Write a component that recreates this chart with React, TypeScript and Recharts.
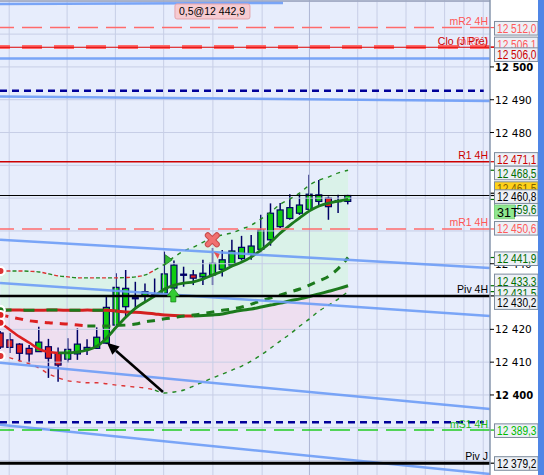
import React from 'react';
import { ComposedChart, XAxis, YAxis, Bar, Line, Area, ReferenceLine, ReferenceDot, CartesianGrid } from 'recharts';

const FONT = '"Liberation Sans", Arial, sans-serif';
const AXFONT = '"DejaVu Sans", Verdana, sans-serif';

// ---- candles (index 0..36) ----
const opens = [12418.9, 12416.8, 12415.5, 12414.2, 12413.2, 12414.7, 12412.7, 12410.9, 12412.5, 12413.9, 12414.2, 12415.8, 12421.3, 12426.9, 12429.5, 12430.1, 12430.3, 12431.0, 12432.6, 12436.7, 12436.6, 12436.0, 12436.6, 12438.3, 12439.6, 12441.6, 12443.0, 12444.4, 12447.3, 12451.3, 12453.8, 12455.4, 12456.6, 12459.0, 12460.0, 12459.0, 12459.0];
const closes = [12414.6, 12414.5, 12412.7, 12412.5, 12416.1, 12411.2, 12409.1, 12413.9, 12415.5, 12414.5, 12417.6, 12426.7, 12432.8, 12432.5, 12429.5, 12431.5, 12430.6, 12436.9, 12439.6, 12436.6, 12435.6, 12437.1, 12440.1, 12441.2, 12443.9, 12445.0, 12445.4, 12450.3, 12455.4, 12456.4, 12457.1, 12457.9, 12461.2, 12461.0, 12457.4, 12459.2, 12460.8];
const highs = [12419.5, 12418.9, 12415.8, 12415.2, 12420.8, 12417.1, 12414.5, 12417.3, 12420.3, 12417.0, 12420.6, 12430.0, 12437.1, 12438.1, 12434.5, 12434.0, 12435.5, 12443.7, 12441.0, 12439.1, 12438.1, 12441.2, 12444.8, 12444.2, 12447.3, 12448.5, 12448.8, 12454.9, 12458.4, 12458.5, 12461.2, 12461.2, 12467.1, 12465.5, 12460.5, 12461.0, 12461.0];
const lows = [12414.0, 12412.8, 12410.2, 12409.8, 12413.2, 12405.2, 12404.0, 12409.8, 12410.7, 12412.2, 12414.2, 12415.5, 12421.3, 12423.5, 12426.5, 12428.0, 12430.0, 12431.0, 12432.0, 12433.0, 12433.5, 12433.5, 12433.5, 12436.1, 12439.0, 12441.0, 12441.2, 12443.5, 12445.5, 12450.9, 12453.4, 12454.9, 12456.4, 12457.4, 12453.4, 12455.5, 12458.1];

// ---- indicators ----
const maShort = [12422.0, 12419.8, 12417.7, 12415.9, 12414.0, 12413.1, 12412.8, 12412.8, 12413.1, 12413.7, 12414.9, 12417.4, 12420.7, 12423.8, 12426.5, 12428.4, 12430.2, 12432.3, 12433.5, 12434.1, 12434.5, 12435.4, 12436.6, 12437.8, 12439.3, 12440.5, 12442.1, 12444.2, 12446.6, 12449.4, 12451.8, 12454.0, 12456.1, 12457.6, 12458.5, 12459.1, 12459.6];
const maLong = [12425.8, 12425.9, 12425.9, 12425.8, 12425.8, 12425.9, 12425.9, 12425.8, 12425.8, 12425.9, 12425.8, 12425.8, 12425.6, 12425.3, 12425.2, 12425.0, 12424.7, 12424.4, 12424.2, 12424.1, 12424.1, 12424.2, 12424.4, 12424.7, 12425.3, 12425.8, 12426.2, 12426.8, 12427.4, 12428.0, 12428.7, 12429.3, 12430.0, 12430.8, 12431.6, 12432.4, 12433.3];
const maMid = [12424.4, 12423.8, 12423.2, 12422.6, 12422.3, 12422.0, 12421.8, 12421.6, 12421.3, 12421.0, 12421.0, 12421.0, 12421.2, 12421.3, 12421.6, 12422.3, 12422.7, 12423.2, 12423.6, 12424.1, 12424.4, 12424.8, 12425.3, 12425.8, 12426.2, 12426.8, 12427.7, 12428.7, 12429.6, 12430.5, 12431.4, 12432.3, 12433.5, 12434.8, 12436.2, 12438.6, 12441.9];
const bandUpper = [12437.8, 12437.8, 12437.8, 12437.7, 12437.5, 12436.9, 12436.3, 12436.0, 12435.7, 12435.7, 12435.7, 12435.7, 12435.7, 12435.8, 12436.0, 12436.6, 12438.1, 12439.9, 12442.1, 12443.9, 12445.1, 12446.6, 12447.9, 12448.8, 12449.4, 12450.6, 12451.8, 12453.7, 12455.8, 12458.2, 12459.8, 12461.6, 12464.0, 12465.5, 12466.5, 12467.7, 12468.5];
const bandLower = [12411.9, 12411.3, 12410.4, 12409.5, 12408.2, 12406.4, 12405.2, 12404.3, 12404.0, 12403.7, 12403.7, 12403.4, 12403.0, 12402.7, 12402.4, 12402.1, 12401.5, 12400.6, 12400.9, 12401.5, 12402.7, 12404.0, 12405.2, 12406.4, 12407.6, 12408.8, 12410.4, 12412.2, 12414.3, 12416.5, 12418.6, 12421.0, 12423.2, 12425.6, 12427.4, 12429.3, 12431.5];

// ---- axis / grid ----
const yDomain = [12375.6, 12520.4];
const xDomain = [-0.05, 50.7];
const yTicks = [12400, 12410, 12420, 12440, 12480, 12490, 12500];
const hiddenTick = 12440;
const gridPrices = [12380, 12390, 12400, 12410, 12420, 12430, 12440, 12450, 12460, 12470, 12480, 12490, 12500, 12510, 12520];
const gridIdx = [0.9, 6.9, 11.9, 16.9, 22, 27.1, 32, 37, 39, 42, 44, 46, 48, 50];

// ---- trend lines [x1, y1, x2, y2] ----
const trendLines = [
  [-0.05, 12519.2, 29.26, 12519.5],
  [-0.05, 12502.6, 50.7, 12502.6],
  [-0.05, 12491.0, 50.7, 12489.6],
  [-0.05, 12447.3, 50.7, 12438.7],
  [-0.05, 12434.1, 50.7, 12424.1],
  [-0.05, 12409.8, 50.7, 12395.7],
  [-0.05, 12390.9, 50.7, 12375.9],
];

// ---- levels ----
const levelMR2 = 12512.0;
const levelClo = 12506.0;
const levelCloM = 12506.1;
const levelNavyTop = 12492.7;
const levelR1 = 12471.1;
const levelLast = 12460.8;
const levelMR1 = 12450.6;
const levelPiv4H = 12430.2;
const levelNavyBottom = 12391.7;
const levelMS1 = 12389.3;
const levelPivJ = 12379.2;

// ---- price boxes ----
const boxValues = [12512.0, 12506.1, 12506.0, 12471.1, 12468.5, 12461.5, 12459.6, 12460.8, 12450.6, 12441.9, 12433.3, 12431.5, 12430.2, 12389.3, 12379.2];
const boxColors = ['#ff5a5a', '#ff5a5a', '#cc0000', '#cc0000', '#006e00', '#000000', '#006e00', '#000000', '#ff5a5a', '#006e00', '#006e00', '#006e00', '#000000', '#00bb00', '#000000'];
const boxNudges = [0.7, -3, 7.4, -2.3, 2.7, -4.6, 9.5, 1.1, -0.7, 1.2, -4.8, 1.7, 6.7, 0.6, 0.3];
const countLabel = '31T';
const countPrice = 12455.8;

const annotText = '0,5@12 442,9';

const rows = opens.map((o, i) => ({
  i,
  o,
  c: closes[i],
  h: highs[i],
  l: lows[i],
  shortRed: i <= 6 ? maShort[i] : null,
  shortGreen: i >= 6 ? maShort[i] : null,
  longRed: i <= 20 ? maLong[i] : null,
  longGreenL: i <= 12 ? maLong[i] : null,
  longGreen: i >= 20 ? maLong[i] : null,
  midRed: i <= 9 ? maMid[i] : null,
  midGreen: i >= 9 ? maMid[i] : null,
  upL: i <= 16 ? bandUpper[i] : null,
  upR: i >= 16 ? bandUpper[i] : null,
  loL: i <= 16 ? bandLower[i] : null,
  loR: i >= 16 ? bandLower[i] : null,
  greenFill: [maLong[i], bandUpper[i]],
  pinkFill: [bandLower[i], maLong[i]],
}));

function fmtInt(v: number) {
  const s = String(Math.round(v));
  return s.slice(0, s.length - 3) + ' ' + s.slice(-3);
}
function fmtPrice(v: number) {
  const [a, b] = v.toFixed(1).split('.');
  return a.slice(0, a.length - 3) + ' ' + a.slice(-3) + ',' + b;
}

const CandleShape = (props: any) => {
  const { x, y, width, height, payload } = props;
  if (x == null || !payload) return null;
  const { o, c, h, l } = payload;
  const top = Math.min(y, y + height);
  const span = Math.abs(height);
  const ppu = h > l ? span / (h - l) : 0;
  const py = (v: number) => top + (h - v) * ppu;
  const cx = x + width / 2;
  const bt = py(Math.max(o, c));
  const bb = py(Math.min(o, c));
  const up = c >= o;
  const bh = bb - bt;
  return (
    <g>
      <line x1={cx} x2={cx} y1={top} y2={top + span} stroke="#000066" strokeWidth={1.5} />
      {bh < 1.2 ? (
        <rect x={x} y={(bt + bb) / 2 - 1.2} width={width} height={2.4} fill="#000066" />
      ) : (
        <rect x={x + 0.5} y={bt} width={width - 1} height={bh} fill={up ? '#10cc10' : '#e02020'} stroke="#000066" strokeWidth={1.2} />
      )}
    </g>
  );
};

const TickText = ({ x, y, v }: any) => {
  const bold = v % 100 === 0;
  return (
    <text x={x} y={y + 4} fontSize={bold ? 10 : 10.5} fontWeight={bold ? 'bold' : 'normal'} fontFamily={AXFONT} fill="#000" textAnchor="start">
      {fmtInt(v)}
    </text>
  );
};

const PriceTick = (props: any) => {
  const { x, y, payload } = props;
  if (payload.value === hiddenTick) return null;
  return <TickText x={x} y={y} v={payload.value} />;
};

const AxisTextLabel = (props: any) => {
  const { viewBox, v } = props;
  if (!viewBox) return null;
  return <TickText x={viewBox.x + viewBox.width + 5} y={viewBox.y} v={v} />;
};

const LevelText = (props: any) => {
  const { viewBox, text, color, dy } = props;
  if (!viewBox) return null;
  return (
    <text x={viewBox.x + viewBox.width - 2} y={viewBox.y + dy} textAnchor="end" fontSize={10.5} fontFamily={FONT} fill={color}>
      {text}
    </text>
  );
};

const PriceBox = (props: any) => {
  const { viewBox, text, color, nudge, fill, w, textColor } = props;
  if (!viewBox) return null;
  const ax = viewBox.x + viewBox.width;
  const cy = viewBox.y;
  const by = cy + nudge;
  const bw = w || 43.5;
  return (
    <g>
      {!w && <line x1={ax} x2={ax + 4} y1={cy} y2={cy} stroke={color} strokeWidth={1.2} />}
      <rect x={ax + 4.5} y={by - 6.8} width={bw} height={13.6} fill={fill} stroke={w ? '#7fd07f' : '#7d8b9c'} strokeWidth={1} />
      <text
        x={ax + 7}
        y={by + 4.6}
        fontSize={12.5}
        fill={textColor || color}
        fontFamily={FONT}
        textLength={w ? undefined : 39.5}
        lengthAdjust="spacingAndGlyphs"
      >
        {text}
      </text>
    </g>
  );
};

const ArrowShape = (p: any) => {
  const { x1, y1, x2, y2 } = p;
  if (x1 == null) return null;
  const tipFirst = x1 < x2;
  const tx = tipFirst ? x1 : x2, ty = tipFirst ? y1 : y2;
  const sx = tipFirst ? x2 : x1, sy = tipFirst ? y2 : y1;
  const dx = tx - sx, dy = ty - sy;
  const len = Math.sqrt(dx * dx + dy * dy) || 1;
  const ux = dx / len, uy = dy / len;
  const bx = tx - ux * 12, by = ty - uy * 12;
  const nx = -uy, ny = ux;
  return (
    <g>
      <line x1={sx} y1={sy} x2={bx} y2={by} stroke="#000" strokeWidth={2.5} />
      <polygon points={`${tx},${ty} ${bx + nx * 5.5},${by + ny * 5.5} ${bx - nx * 5.5},${by - ny * 5.5}`} fill="#000" />
    </g>
  );
};

const XShape = (p: any) => {
  const { cx, cy } = p;
  if (cx == null) return null;
  return (
    <g strokeLinecap="round">
      <line x1={cx - 4.5} y1={cy - 4.5} x2={cx + 4.5} y2={cy + 4.5} stroke="#c84c4c" strokeWidth={6} />
      <line x1={cx + 4.5} y1={cy - 4.5} x2={cx - 4.5} y2={cy + 4.5} stroke="#c84c4c" strokeWidth={6} />
      <line x1={cx - 4.5} y1={cy - 4.5} x2={cx + 4.5} y2={cy + 4.5} stroke="#f07070" strokeWidth={4} />
      <line x1={cx + 4.5} y1={cy - 4.5} x2={cx - 4.5} y2={cy + 4.5} stroke="#f07070" strokeWidth={4} />
    </g>
  );
};

const RedFlag = (p: any) => {
  const { cx, cy } = p;
  if (cx == null) return null;
  return <polygon points={`${cx - 3},${cy - 3} ${cx + 3},${cy - 1} ${cx + 1},${cy + 4}`} fill="#e85050" />;
};

const GreenFlag = (p: any) => {
  const { cx, cy } = p;
  if (cx == null) return null;
  return <polygon points={`${cx - 3},${cy - 5} ${cx + 4},${cy} ${cx - 3},${cy + 5}`} fill="#33bb33" stroke="#1a7a1a" strokeWidth={0.8} />;
};

const UpArrow = (p: any) => {
  const { cx, cy } = p;
  if (cx == null) return null;
  return (
    <polygon
      points={`${cx},${cy - 7} ${cx + 6},${cy + 1} ${cx + 2.5},${cy + 1} ${cx + 2.5},${cy + 7} ${cx - 2.5},${cy + 7} ${cx - 2.5},${cy + 1} ${cx - 6},${cy + 1}`}
      fill="#33cc33"
      stroke="#188818"
      strokeWidth={0.8}
    />
  );
};

const AnnotBox = (p: any) => {
  const { cx, cy } = p;
  if (cx == null) return null;
  return (
    <g>
      <rect x={cx} y={cy - 7.5} width={75} height={15} rx={2} fill="#f6cbd1" stroke="#e4a4ad" />
      <text x={cx + 4} y={cy + 4} fontSize={10.5} fontFamily={FONT} fill="#000">{annotText}</text>
    </g>
  );
};

const boxEl = (k: number) => (
  <ReferenceLine
    key={'box' + k}
    y={boxValues[k]}
    stroke="none"
    label={<PriceBox text={fmtPrice(boxValues[k])} color={boxColors[k]} nudge={boxNudges[k]} fill={k === 5 ? '#ffd21a' : '#edf0f6'} textColor={k === 5 ? '#806000' : undefined} />}
  />
);

export default function App() {
  const blue = '#6d9cf6';
  return (
    <div style={{ position: 'absolute', left: 0, top: 0, width: 544, height: 475, background: '#ffffff', overflow: 'hidden' }}>
      <ComposedChart width={544} height={475} data={rows} margin={{ top: 0, right: 0, bottom: 0, left: 0 }}>
        <CartesianGrid fill="#e7edfc" horizontal={false} vertical={false} />
        <XAxis type="number" dataKey="i" domain={xDomain} allowDataOverflow hide />
        <YAxis
          orientation="right"
          width={54}
          domain={yDomain}
          allowDataOverflow
          ticks={yTicks}
          interval={0}
          tickSize={4}
          tickMargin={1}
          tick={<PriceTick />}
          axisLine={{ stroke: '#8796ac', strokeWidth: 1.5 }}
          tickLine={{ stroke: '#000' }}
        />
        <Area dataKey="greenFill" type="monotone" stroke="none" fill="#daf2e9" fillOpacity={1} isAnimationActive={false} />
        <Area dataKey="pinkFill" type="monotone" stroke="none" fill="#eedff0" fillOpacity={1} isAnimationActive={false} />
        {gridPrices.map((p) => (
          <ReferenceLine key={'gh' + p} y={p} stroke="#c7cee6" strokeWidth={1} />
        ))}
        {gridIdx.map((g) => (
          <ReferenceLine key={'gv' + g} x={g} stroke={g === 32 ? '#aeb6d4' : '#c7cee6'} strokeWidth={1} />
        ))}
        <ReferenceLine y={12520.1} stroke="#9aa3bd" strokeWidth={1.5} />

        <Line dataKey="upL" type="monotone" stroke="#228822" strokeWidth={1.4} strokeDasharray="4 8" dot={false} isAnimationActive={false} />
        <Line dataKey="upL" type="monotone" stroke="#dd3333" strokeWidth={1.4} strokeDasharray="4 8" strokeDashoffset={6} dot={false} isAnimationActive={false} />
        <Line dataKey="upR" type="monotone" stroke="#228822" strokeWidth={1.4} strokeDasharray="4 5" dot={false} isAnimationActive={false} />
        <Line dataKey="loL" type="monotone" stroke="#dd3333" strokeWidth={1.4} strokeDasharray="4 5" dot={false} isAnimationActive={false} />
        <Line dataKey="loR" type="monotone" stroke="#228822" strokeWidth={1.4} strokeDasharray="4 5" dot={false} isAnimationActive={false} />

        <Line dataKey="longRed" type="monotone" stroke="#d42020" strokeWidth={3} dot={false} isAnimationActive={false} />
        <Line dataKey="longGreenL" type="monotone" stroke="#1c7a1c" strokeWidth={3} strokeDasharray="11 12" dot={false} isAnimationActive={false} />
        <Line dataKey="longGreen" type="monotone" stroke="#1c7a1c" strokeWidth={3} dot={false} isAnimationActive={false} />
        <Line dataKey="midRed" type="monotone" stroke="#dd2020" strokeWidth={3} strokeDasharray="8 7" dot={false} isAnimationActive={false} />
        <Line dataKey="midGreen" type="monotone" stroke="#1c7a1c" strokeWidth={3} strokeDasharray="8 7" dot={false} isAnimationActive={false} />

        <Bar dataKey={(d: any) => [d.l, d.h]} barSize={7} shape={(p: any) => <CandleShape {...p} />} isAnimationActive={false} />

        <Line dataKey="shortRed" type="monotone" stroke="#dd2020" strokeWidth={2.5} dot={false} isAnimationActive={false} />
        <Line dataKey="shortGreen" type="monotone" stroke="#1c7a1c" strokeWidth={2.8} dot={false} isAnimationActive={false} />

        {trendLines.map((t, k) => (
          <ReferenceLine
            key={'tl' + k}
            segment={[{ x: t[0], y: t[1] }, { x: t[2], y: t[3] }]}
            stroke={blue}
            strokeWidth={2.5}
            strokeOpacity={0.9}
          />
        ))}

        <ReferenceLine y={levelMR2} stroke="#ff6b6b" strokeWidth={1.5} strokeDasharray="20 8" label={<LevelText text="mR2 4H" color="#ff5555" dy={-3} />} />
        <ReferenceLine y={levelCloM} stroke="#ff6a6a" strokeWidth={4} strokeDasharray="20 12" label={<LevelText text="mR3 J" color="#ff6a6a" dy={-2} />} />
        <ReferenceLine y={levelClo} stroke="#dd0000" strokeWidth={1.2} label={<LevelText text="Clo (J Pré)" color="#cc0000" dy={-2} />} />
        <ReferenceLine segment={[{ x: xDomain[0], y: levelNavyTop }, { x: 50.05, y: levelNavyTop }]} stroke="#000099" strokeWidth={2.5} strokeDasharray="7 5" />
        <ReferenceLine y={levelR1} stroke="#cc0000" strokeWidth={1.5} label={<LevelText text="R1 4H" color="#cc0000" dy={-3} />} />
        <ReferenceLine y={levelLast} stroke="#000" strokeWidth={1.2} />
        <ReferenceLine y={levelMR1} stroke="#ff6b6b" strokeWidth={1.5} strokeDasharray="20 8" label={<LevelText text="mR1 4H" color="#ff5555" dy={-3} />} />
        <ReferenceLine y={levelPiv4H} stroke="#000" strokeWidth={2.5} label={<LevelText text="Piv 4H" color="#000" dy={-3} />} />
        <ReferenceLine segment={[{ x: xDomain[0], y: levelNavyBottom }, { x: 50.05, y: levelNavyBottom }]} stroke="#000099" strokeWidth={2.5} strokeDasharray="7 5" />
        <ReferenceLine y={levelMS1} stroke="#22cc22" strokeWidth={1.5} strokeDasharray="20 8" label={<LevelText text="mS1 4H" color="#22bb22" dy={-2} />} />
        <ReferenceLine y={levelPivJ} stroke="#000" strokeWidth={3} label={<LevelText text="Piv J" color="#000" dy={-3} />} />

        <ReferenceLine segment={[{ x: 16.83, y: 12400.9 }, { x: 11.03, y: 12415.9 }]} shape={(p: any) => <ArrowShape {...p} />} />
        <ReferenceDot x={21.94} y={12447.3} r={5} shape={(p: any) => <XShape {...p} />} />
        <ReferenceDot x={22.4} y={12442.7} r={3} shape={(p: any) => <RedFlag {...p} />} />
        <ReferenceDot x={17.38} y={12441.2} r={3} shape={(p: any) => <GreenFlag {...p} />} />
        <ReferenceDot x={17.9} y={12430.5} r={3} shape={(p: any) => <UpArrow {...p} />} />
        <ReferenceDot x={18.07} y={12516.9} r={3} shape={(p: any) => <AnnotBox {...p} />} />

        <ReferenceLine y={hiddenTick} stroke="none" label={<AxisTextLabel v={hiddenTick} />} />
        {[0, 1, 2, 3, 4, 5, 6, 7].map(boxEl)}
        <ReferenceLine y={countPrice} stroke="none" label={<PriceBox text={countLabel} color="#000" nudge={0} fill="#8fe88f" w={20} />} />
        {[8, 9, 10, 11, 12, 13, 14].map(boxEl)}
      </ComposedChart>
      <div style={{ position: 'absolute', left: 538, top: 0, width: 6, height: 475, background: '#4f86e6' }} />
    </div>
  );
}
